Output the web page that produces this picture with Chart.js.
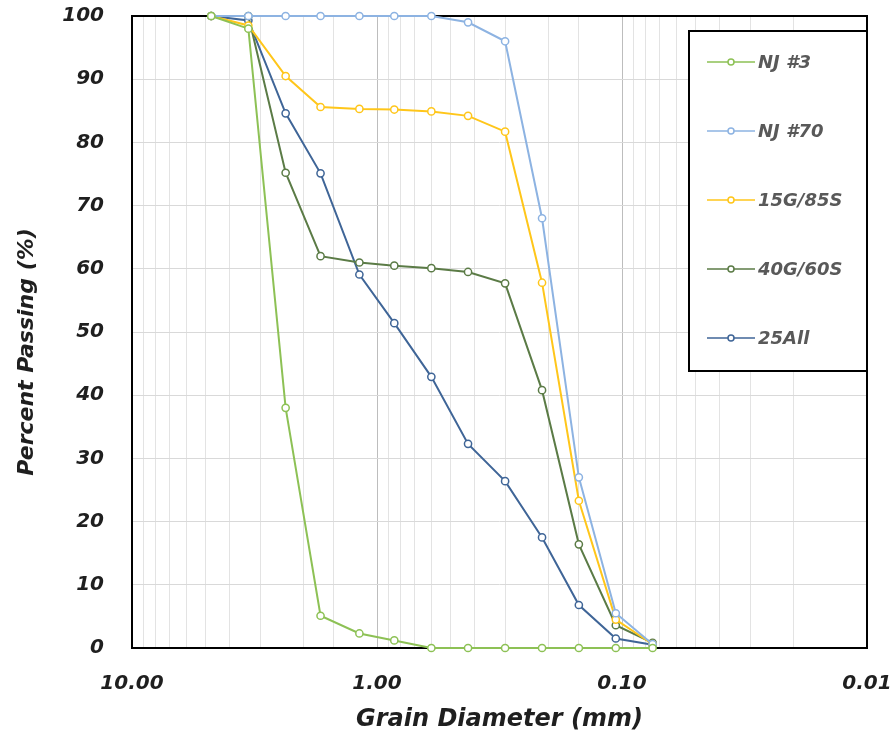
<!DOCTYPE html>
<html>
<head>
<meta charset="utf-8">
<script src="https://cdn.jsdelivr.net/npm/chart.js@4"></script>
<style>
  html, body { margin: 0; padding: 0; background: #fff; }
  #wrap { width: 894px; height: 732px; position: relative; }
</style>
</head>
<body>
<div id="wrap"><canvas id="c" width="894" height="732"></canvas></div>
<script>
// Sieve sizes (mm)
const sieveSizes = [4.75, 3.35, 2.36, 1.7, 1.18, 0.85, 0.6, 0.425, 0.3, 0.212, 0.15, 0.106, 0.075];

// Percent passing per mix
const seriesNames = ['NJ #3', 'NJ #70', '15G/85S', '40G/60S', '25All'];
const nj3     = [100, 98,   38,   5.1,  2.3,  1.2,  0,    0,    0,    0,    0,    0,   0];
const nj70    = [100, 100,  100,  100,  100,  100,  100,  99,   96,   68,   27,   5.5, 0.6];
const g15s85  = [100, 98.5, 90.5, 85.6, 85.3, 85.2, 84.9, 84.2, 81.7, 57.8, 23.3, 4.5, 0.6];
const g40s60  = [100, 100,  75.2, 62,   61,   60.5, 60.1, 59.5, 57.7, 40.8, 16.4, 3.6, 0.8];
const all25   = [100, 99.3, 84.6, 75.1, 59.1, 51.4, 42.9, 32.3, 26.4, 17.5, 6.8,  1.5, 0.5];

const xTickLabels = ['10.00', '1.00', '0.10', '0.01'];
const xDecades = [10, 1, 0.1, 0.01];
const yTicks = [0, 10, 20, 30, 40, 50, 60, 70, 80, 90, 100];
const xTitle = 'Grain Diameter (mm)';
const yTitle = 'Percent Passing (%)';

const colors = ['#8DC155', '#8DB3E2', '#FFC61A', '#5B7B46', '#3F6597'];
const seriesValues = [nj3, nj70, g15s85, g40s60, all25];

const FONT = "'DejaVu Sans', 'Liberation Sans', sans-serif";
const TXT = '#1f1f1f';

const datasets = seriesNames.map((name, i) => ({
  label: name,
  data: sieveSizes.map((d, j) => ({ x: d, y: seriesValues[i][j] })),
  borderColor: colors[i],
  backgroundColor: '#ffffff',
  pointBackgroundColor: '#ffffff',
  pointBorderColor: colors[i],
  pointRadius: 3.6,
  pointBorderWidth: 1.5,
  borderWidth: 2,
  tension: 0,
  clip: false
}));

function isDecade(v) {
  const l = Math.log10(v);
  return Math.abs(l - Math.round(l)) < 1e-6;
}

const framePlugin = {
  id: 'frame',
  beforeDatasetsDraw(chart) {
    const { ctx, chartArea: a } = chart;
    ctx.save();
    ctx.strokeStyle = '#000';
    ctx.lineWidth = 2;
    ctx.strokeRect(a.left, a.top, a.right - a.left, a.bottom - a.top);
    ctx.restore();
  }
};

const yTitlePlugin = {
  id: 'yTitle',
  afterDraw(chart) {
    const { ctx, chartArea: a } = chart;
    ctx.save();
    ctx.translate(27, (a.top + a.bottom) / 2 + 20);
    ctx.rotate(-Math.PI / 2);
    ctx.fillStyle = TXT;
    ctx.font = "italic bold 22px " + FONT;
    ctx.textAlign = 'center';
    ctx.textBaseline = 'middle';
    ctx.fillText(yTitle, 0, 0);
    ctx.restore();
  }
};

const legendPlugin = {
  id: 'boxLegend',
  afterDatasetsDraw(chart) {
    const { ctx, chartArea: a } = chart;
    const left = a.right - 178, top = a.top + 15, bottom = a.top + 355;
    ctx.save();
    ctx.fillStyle = '#fff';
    ctx.fillRect(left, top, a.right - left, bottom - top);
    ctx.strokeStyle = '#000';
    ctx.lineWidth = 2;
    ctx.strokeRect(left, top, a.right - left, bottom - top);
    chart.data.datasets.forEach((ds, i) => {
      const y = top + 31 + i * 69;
      const x0 = left + 18, x1 = left + 66;
      ctx.strokeStyle = ds.borderColor;
      ctx.lineWidth = 1.5;
      ctx.beginPath();
      ctx.moveTo(x0, y); ctx.lineTo(x1, y);
      ctx.stroke();
      ctx.beginPath();
      ctx.arc((x0 + x1) / 2, y, 3, 0, Math.PI * 2);
      ctx.fillStyle = '#fff';
      ctx.fill();
      ctx.stroke();
      ctx.fillStyle = '#595959';
      ctx.font = "italic bold 18px " + FONT;
      ctx.textBaseline = 'middle';
      ctx.textAlign = 'left';
      ctx.fillText(ds.label, x1 + 3, y + 1);
    });
    ctx.restore();
  }
};

new Chart(document.getElementById('c'), {
  type: 'line',
  data: { datasets },
  plugins: [framePlugin, legendPlugin, yTitlePlugin],
  options: {
    responsive: false,
    animation: false,
    devicePixelRatio: 1,
    layout: { padding: { left: 0, right: 27, top: 16, bottom: 0 } },
    plugins: {
      legend: { display: false },
      tooltip: { enabled: false }
    },
    scales: {
      x: {
        type: 'logarithmic',
        reverse: true,
        min: 0.01,
        max: 10,
        afterFit(scale) { scale.height = 84; },
        border: { display: false },
        grid: {
          drawTicks: true,
          tickLength: 25,
          tickColor: 'rgba(0,0,0,0)',
          color(ctx) {
            return isDecade(ctx.tick.value) ? '#bdbdbd' : '#e3e3e3';
          },
          lineWidth: 1
        },
        ticks: {
          autoSkip: false,
          maxRotation: 0,
          padding: 0,
          color: TXT,
          font: { family: FONT, size: 20, style: 'italic', weight: 'bold', lineHeight: 1.1 },
          callback(v) {
            const idx = xDecades.findIndex(d => Math.abs(Math.log10(d) - Math.log10(v)) < 1e-6);
            return idx >= 0 ? xTickLabels[idx] : '';
          }
        },
        title: {
          display: true,
          text: xTitle,
          color: TXT,
          font: { family: FONT, size: 24, style: 'italic', weight: 'bold', lineHeight: 1.0 },
          padding: { top: 0, bottom: 0 }
        }
      },
      y: {
        min: 0,
        max: 100,
        afterFit(scale) { scale.width = 132; },
        afterBuildTicks(scale) { scale.ticks = yTicks.map(v => ({ value: v })); },
        border: { display: false },
        grid: {
          drawTicks: true,
          tickLength: 28,
          tickColor: 'rgba(0,0,0,0)',
          color: '#d9d9d9',
          lineWidth: 1
        },
        ticks: {
          padding: 0,
          color: TXT,
          font: { family: FONT, size: 20, style: 'italic', weight: 'bold', lineHeight: 1.1 }
        },
        title: { display: false }
      }
    }
  }
});
</script>
</body>
</html>
